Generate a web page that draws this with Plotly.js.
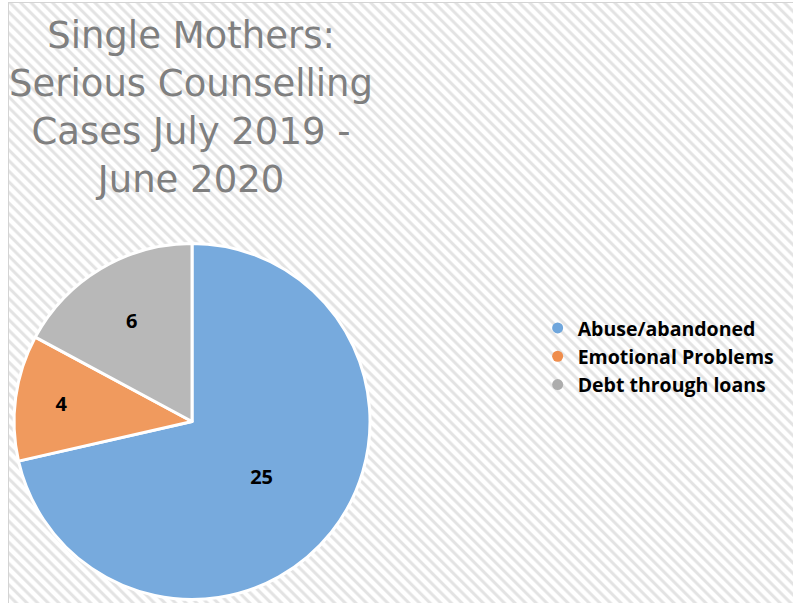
<!DOCTYPE html>
<html>
<head>
<meta charset="utf-8">
<script src="https://cdn.plot.ly/plotly-3.0.1.min.js"></script>
<style>
  body { margin: 0; background: #fff; }
  #wrap { position: relative; width: 793px; height: 603px; overflow: hidden; }
  #bg {
    position: absolute; left: 8px; top: 2px; right: 0; bottom: 0;
    border-left: 1px solid #d4d4d4; border-top: 1px solid #d4d4d4;
    background: repeating-linear-gradient(45deg, #ffffff 0px, #ffffff 3px, #e3e3e3 4.5px, #e3e3e3 6px, #ffffff 7.5px);
  }
  #chart { position: absolute; left: 0; top: 0; width: 793px; height: 603px; }
</style>
</head>
<body>
<div id="wrap">
  <div id="bg"></div>
  <div id="chart"></div>
</div>
<script>
const labels = ['Abuse/abandoned', 'Emotional Problems', 'Debt through loans'];
const cases = [25, 4, 6];
const colors = ['#77aadd', '#f09a5e', '#b8b8b8'];
const legendColors = ['#6fa6dc', '#ef8d4c', '#acacac'];
const titleLines = ['Single Mothers:', 'Serious Counselling', 'Cases July 2019 -', 'June 2020'];

const pie = {
    type: 'pie',
    labels: labels,
    values: cases,
    sort: false,
    direction: 'clockwise',
    rotation: 0,
    textinfo: 'value',
    textposition: 'inside',
    insidetextorientation: 'horizontal',
    textfont: {family: 'Open Sans, sans-serif', size: 20, color: '#000', weight: 'bold'},
    marker: {colors: colors, line: {color: '#ffffff', width: 3}},
    domain: {x: [0.0177, 0.4666], y: [0.005, 0.597]},
    showlegend: false,
    hoverinfo: 'label+value'
};

// dummy traces so the legend gets round markers
const legendTraces = labels.map((name, i) => ({
    type: 'scatter',
    mode: 'markers',
    x: [null],
    y: [null],
    name: name,
    marker: {color: legendColors[i], size: 11, symbol: 'circle'},
    showlegend: true
}));

const layout = {
    width: 793,
    height: 603,
    margin: {l: 0, r: 0, t: 0, b: 0},
    paper_bgcolor: 'rgba(0,0,0,0)',
    plot_bgcolor: 'rgba(0,0,0,0)',
    xaxis: {visible: false},
    yaxis: {visible: false},
    annotations: [{
        text: titleLines.join('<br>'),
        xref: 'paper',
        yref: 'paper',
        x: 0.241,
        y: 1 - 108 / 603,
        xanchor: 'center',
        yanchor: 'middle',
        align: 'center',
        showarrow: false,
        font: {family: 'DejaVu Sans, sans-serif', size: 37, color: '#7f7f7f'}
    }],
    legend: {
        x: 0.678,
        y: 0.488,
        xanchor: 'left',
        yanchor: 'top',
        bgcolor: 'rgba(0,0,0,0)',
        font: {family: 'Open Sans, sans-serif', size: 19.5, color: '#000', weight: 'bold'},
        itemwidth: 30,
        tracegroupgap: 0
    }
};

Plotly.newPlot('chart', [pie].concat(legendTraces), layout, {displayModeBar: false});
</script>
</body>
</html>
